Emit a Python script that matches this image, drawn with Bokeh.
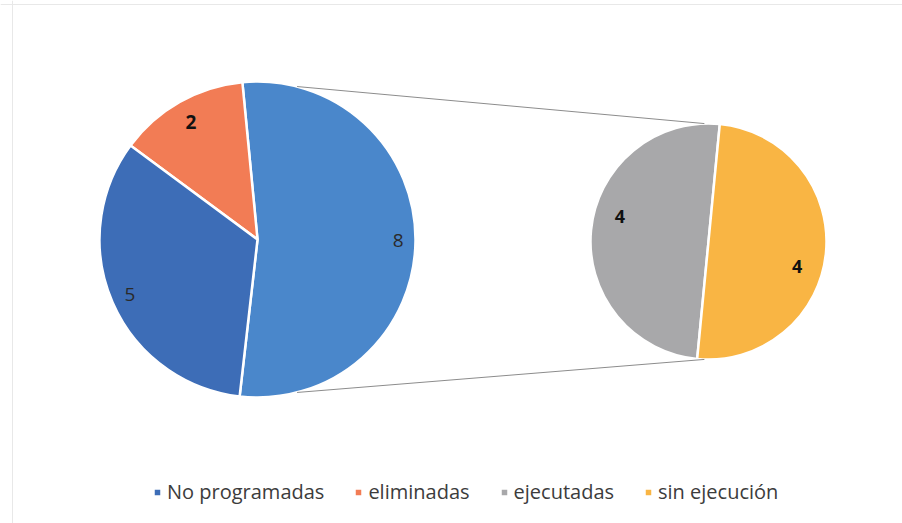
import numpy as np
from bokeh.plotting import figure
from bokeh.models import ColumnDataSource, Range1d, Legend, LegendItem, Span
from bokeh.core.properties import value
from bokeh.embed import file_html
from bokeh.resources import INLINE

# ---- data ----
main_categories = ["eliminadas", "No programadas"]
main_values = [2, 5]
sub_categories = ["ejecutadas", "sin ejecución"]
sub_values = [4, 4]
legend_order = ["No programadas", "eliminadas", "ejecutadas", "sin ejecución"]

# ---- style ----
colors = {"No programadas": "#3d6db7", "eliminadas": "#f27c55",
          "ejecutadas": "#a8a8aa", "sin ejecución": "#f9b544", "otros": "#4a87cb"}
FONT = "Open Sans"
W, H = 902, 523
main_c = (257, 284); R1 = 158
sub_c = (708, 282); R2 = 118

p = figure(width=W, height=H, x_range=Range1d(0, W), y_range=Range1d(0, H),
           output_backend="svg", toolbar_location=None, min_border=0,
           x_axis_type=None, y_axis_type=None)
p.grid.visible = False
p.outline_line_color = None
p.background_fill_color = "white"

# faint chart-area frame (left and top edges visible in the scan)
p.add_layout(Span(location=12, dimension="height", line_color="#e8e8e8", line_width=1))
p.add_layout(Span(location=519, dimension="width", line_color="#e8e8e8", line_width=1))

# main pie: "other" slice (sum of sub) centred on the right
other_total = sum(sub_values)
total = sum(main_values) + other_total
other_span = 2 * np.pi * other_total / total
other_start = np.deg2rad(-0.5) - other_span / 2
m_vals = [other_total] + main_values
m_names = ["otros"] + main_categories
m_start, m_end = [], []
a = other_start
for v in m_vals:
    m_start.append(a)
    a += 2 * np.pi * v / total
    m_end.append(a)
msrc = ColumnDataSource(dict(x=[main_c[0]] * 3, y=[main_c[1]] * 3, s=m_start, e=m_end,
                             c=[colors[n] for n in m_names], name=m_names))
r_main = p.wedge(x="x", y="y", radius=R1, start_angle="s", end_angle="e",
                 fill_color="c", line_color="white", line_width=2.5, source=msrc)

# sub pie
sub_total = sum(sub_values)
s_start, s_end = [], []
a = np.deg2rad(84.5)
for v in sub_values:
    s_start.append(a)
    a += 2 * np.pi * v / sub_total
    s_end.append(a)
ssrc = ColumnDataSource(dict(x=[sub_c[0]] * 2, y=[sub_c[1]] * 2, s=s_start, e=s_end,
                             c=[colors[n] for n in sub_categories], name=sub_categories))
r_sub = p.wedge(x="x", y="y", radius=R2, start_angle="s", end_angle="e",
                fill_color="c", line_color="white", line_width=2.5, source=ssrc)

# connector lines
a_main = np.deg2rad(75.5)
a_sub_top, a_sub_bot = np.deg2rad(92), np.deg2rad(268)
p.segment(x0=[main_c[0] + R1 * np.cos(a_main), main_c[0] + R1 * np.cos(-a_main)],
          y0=[main_c[1] + R1 * np.sin(a_main), main_c[1] + R1 * np.sin(-a_main)],
          x1=[sub_c[0] + R2 * np.cos(a_sub_top), sub_c[0] + R2 * np.cos(a_sub_bot)],
          y1=[sub_c[1] + R2 * np.sin(a_sub_top), sub_c[1] + R2 * np.sin(a_sub_bot)],
          line_color="#8c8c8c", line_width=1)

# data labels
m_frac = [0.89, 0.855, 0.88]
m_weight = ["normal", "bold", "normal"]
m_col = ["#2a2a2a", "#111111", "#2a2a2a"]
for i, v in enumerate(m_vals):
    mid = (m_start[i] + m_end[i]) / 2
    p.text(x=[main_c[0] + R1 * m_frac[i] * np.cos(mid)], y=[main_c[1] + R1 * m_frac[i] * np.sin(mid)],
           text=[str(v)], text_align="center", text_baseline="middle",
           text_font=value(FONT), text_font_size="19px", text_font_style=m_weight[i],
           text_color=m_col[i])
for i, v in enumerate(sub_values):
    mid = (s_start[i] + s_end[i]) / 2 - np.deg2rad(10)
    p.text(x=[sub_c[0] + R2 * 0.78 * np.cos(mid)], y=[sub_c[1] + R2 * 0.78 * np.sin(mid)],
           text=[str(v)], text_align="center", text_baseline="middle",
           text_font=value(FONT), text_font_size="18px", text_font_style="bold",
           text_color="#111111")

# legend
items = []
for name in legend_order:
    if name in m_names:
        items.append(LegendItem(label=name, renderers=[r_main], index=m_names.index(name)))
    else:
        items.append(LegendItem(label=name, renderers=[r_sub], index=sub_categories.index(name)))
legend = Legend(items=items, orientation="horizontal", location=(152, 18),
                label_text_font=FONT, label_text_font_size="20px", label_text_color="#3c3c3c",
                glyph_width=10, glyph_height=10, label_standoff=5, spacing=29,
                padding=0, margin=0, border_line_color=None, background_fill_alpha=0)
p.add_layout(legend)

open("out.html", "w").write(file_html(p, INLINE))
